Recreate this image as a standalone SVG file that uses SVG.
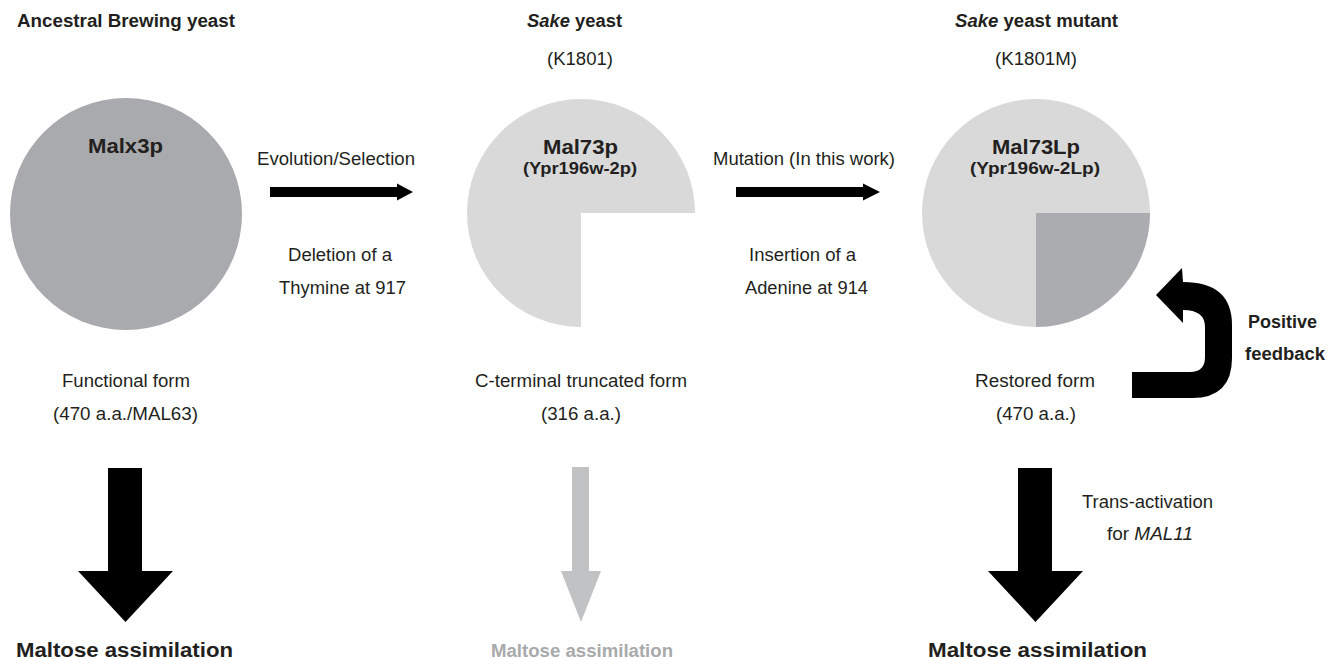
<svg xmlns="http://www.w3.org/2000/svg" width="1340" height="659" viewBox="0 0 1340 659">
<style>
text{font-family:"Liberation Sans",Arial,Helvetica,sans-serif;fill:#231f20;}
.b{font-weight:bold;}
.t{font-size:17.5px;}
.r{font-size:17.5px;}
.lbl{font-size:21px;font-weight:bold;}
.sub{font-size:16px;font-weight:bold;}
.ma{font-size:20px;font-weight:bold;}
.gray{fill:#a9aaac;}
.blk{fill:#000;}
</style>
<rect width="1340" height="659" fill="#fff"/>
<g id="ancestral">
<text class="t b" x="17" y="27" textLength="218" lengthAdjust="spacingAndGlyphs">Ancestral Brewing yeast</text>
<circle cx="126" cy="214" r="116" fill="#a9aaad"/>
<text class="lbl" x="88" y="153" textLength="75" lengthAdjust="spacingAndGlyphs">Malx3p</text>
<text class="r" x="62" y="387" textLength="128" lengthAdjust="spacingAndGlyphs">Functional form</text>
<text class="r" x="53" y="420" textLength="145" lengthAdjust="spacingAndGlyphs">(470 a.a./MAL63)</text>
</g>
<g id="sake">
<text class="t b" x="527" y="27" textLength="95" lengthAdjust="spacingAndGlyphs"><tspan font-style="italic">Sake</tspan> yeast</text>
<text class="r" x="547" y="65" textLength="66" lengthAdjust="spacingAndGlyphs">(K1801)</text>
<path d="M581,213 L581,327 A114,114 0 1,1 695,213 Z" fill="#d9d9da"/>
<text class="lbl" x="543" y="154" textLength="75" lengthAdjust="spacingAndGlyphs">Mal73p</text>
<text class="sub" x="523" y="174" textLength="114" lengthAdjust="spacingAndGlyphs">(Ypr196w-2p)</text>
<text class="r" x="475" y="387" textLength="212" lengthAdjust="spacingAndGlyphs">C-terminal truncated form</text>
<text class="r" x="541" y="420" textLength="80" lengthAdjust="spacingAndGlyphs">(316 a.a.)</text>
</g>
<g id="mutant">
<text class="t b" x="955" y="27" textLength="163" lengthAdjust="spacingAndGlyphs"><tspan font-style="italic">Sake</tspan> yeast mutant</text>
<text class="r" x="995" y="65" textLength="82" lengthAdjust="spacingAndGlyphs">(K1801M)</text>
<circle cx="1036" cy="213" r="114" fill="#d9d9da"/>
<path d="M1036,213 L1150,213 A114,114 0 0,1 1036,327 Z" fill="#abacaf"/>
<text class="lbl" x="992" y="154" textLength="88" lengthAdjust="spacingAndGlyphs">Mal73Lp</text>
<text class="sub" x="970" y="174" textLength="130" lengthAdjust="spacingAndGlyphs">(Ypr196w-2Lp)</text>
<text class="r" x="975" y="387" textLength="120" lengthAdjust="spacingAndGlyphs">Restored form</text>
<text class="r" x="996" y="420" textLength="80" lengthAdjust="spacingAndGlyphs">(470 a.a.)</text>
</g>
<g id="connectors">
<g id="evolution">
<polygon class="blk" points="270,187 397,187 397,183.5 413,192 397,200.5 397,197 270,197"/>
<text class="r" x="257" y="165" textLength="158" lengthAdjust="spacingAndGlyphs">Evolution/Selection</text>
<text class="r" x="288" y="261" textLength="104" lengthAdjust="spacingAndGlyphs">Deletion of a</text>
<text class="r" x="279" y="294" textLength="127" lengthAdjust="spacingAndGlyphs">Thymine at 917</text>
</g>
<g id="mutation">
<polygon class="blk" points="736,187 863,187 863,183.5 880,192 863,200.5 863,197 736,197"/>
<text class="r" x="713" y="165" textLength="182" lengthAdjust="spacingAndGlyphs">Mutation (In this work)</text>
<text class="r" x="749" y="261" textLength="107" lengthAdjust="spacingAndGlyphs">Insertion of a</text>
<text class="r" x="745" y="294" textLength="123" lengthAdjust="spacingAndGlyphs">Adenine at 914</text>
</g>
<g id="feedback">
<path class="blk" d="M1132,372 L1190,372 Q1205,372 1205,357 L1205,327 Q1205,310 1183,310 L1183,323 L1156,295 L1182,268 L1183,282 Q1232,282 1232,325 L1232,358 Q1232,398 1192,398 L1132,398 Z"/>
<text class="t b" x="1248" y="328" textLength="69" lengthAdjust="spacingAndGlyphs">Positive</text>
<text class="t b" x="1245" y="360" textLength="80" lengthAdjust="spacingAndGlyphs">feedback</text>
</g>
<g id="down1">
<polygon class="blk" points="108,468 142,468 142,571 173,571 125.5,622 78,571 108,571"/>
<text class="ma" x="16" y="657" textLength="217" lengthAdjust="spacingAndGlyphs">Maltose assimilation</text>
</g>
<g id="down2">
<polygon fill="#c1c2c4" points="572,467 589,467 589,571 601,571 581,622 561,571 572,571"/>
<text class="ma gray" x="491" y="657" textLength="182" lengthAdjust="spacingAndGlyphs" style="font-size:18px">Maltose assimilation</text>
</g>
<g id="down3">
<polygon class="blk" points="1018,468 1052,468 1052,571 1083,571 1035.5,622 988,571 1018,571"/>
<text class="r" x="1082" y="508" textLength="131" lengthAdjust="spacingAndGlyphs">Trans-activation</text>
<text class="r" x="1107" y="540" textLength="86" lengthAdjust="spacingAndGlyphs">for <tspan font-style="italic">MAL11</tspan></text>
<text class="ma" x="928" y="657" textLength="219" lengthAdjust="spacingAndGlyphs">Maltose assimilation</text>
</g>
</g>
</svg>
